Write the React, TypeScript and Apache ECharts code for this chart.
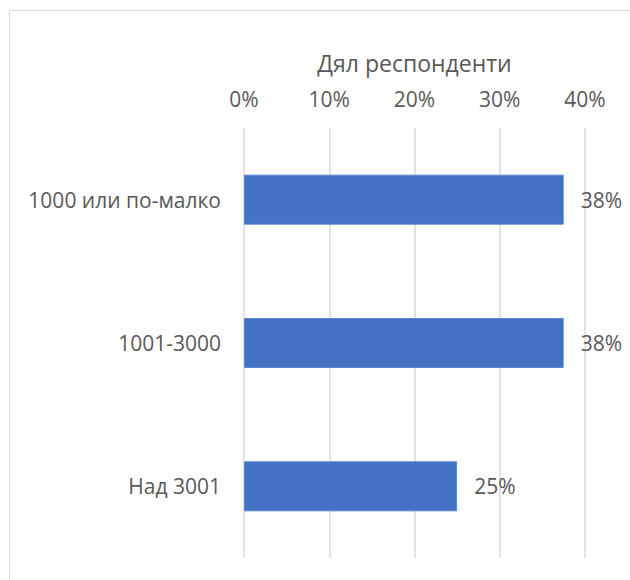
import React, { useEffect, useRef } from "react";
import * as echarts from "echarts";

const categories = ["1000 или по-малко", "1001-3000", "Над 3001"];
const shares = [37.5, 37.5, 25];
const axisTicks = [0, 10, 20, 30, 40];
const axisTitle = "Дял респонденти";

const FONT = "'Open Sans', 'Noto Sans', sans-serif";
const TEXT = "#595959";
const FS = 21;

export default function App() {
  const ref = useRef<HTMLDivElement>(null);
  useEffect(() => {
    if (!ref.current) return;
    const chart = echarts.init(ref.current, null, { renderer: "svg" });
    chart.setOption({
      animation: false,
      backgroundColor: "#ffffff",
      textStyle: { fontFamily: FONT },
      graphic: [
        {
          type: "rect",
          shape: { x: 9.5, y: 10.5, width: 700, height: 700 },
          style: { fill: "none", stroke: "#d9d9d9", lineWidth: 1 },
          silent: true,
        },
      ],
      grid: { left: 244, top: 128, width: 341, height: 430 },
      xAxis: {
        type: "value",
        position: "top",
        min: axisTicks[0],
        max: axisTicks[axisTicks.length - 1],
        interval: axisTicks[1] - axisTicks[0],
        name: axisTitle,
        nameLocation: "middle",
        nameGap: 54,
        nameTextStyle: { color: TEXT, fontSize: 23, fontFamily: FONT },
        axisLine: { show: false },
        axisTick: { show: false },
        axisLabel: {
          color: TEXT,
          fontSize: FS,
          fontFamily: FONT,
          margin: 19,
          formatter: (v: number) => v + "%",
        },
        splitLine: { show: true, lineStyle: { color: "#d9d9d9", width: 1.5 } },
      },
      yAxis: {
        type: "category",
        inverse: true,
        data: categories,
        axisLine: { show: false },
        axisTick: { show: false },
        axisLabel: { color: TEXT, fontSize: FS, fontFamily: FONT, margin: 23 },
        splitLine: { show: false },
      },
      series: [
        {
          type: "bar",
          data: shares,
          barWidth: 50,
          itemStyle: { color: "#4472C4", borderColor: "#5b86d0", borderWidth: 1 },
          label: {
            show: true,
            position: "right",
            distance: 17,
            color: TEXT,
            fontSize: FS,
            fontFamily: FONT,
            formatter: (p: any) => Math.round(p.value) + "%",
          },
        },
      ],
    });
    return () => chart.dispose();
  }, []);
  return (
    <div
      ref={ref}
      style={{ position: "absolute", left: 0, top: 0, width: 630, height: 580 }}
    />
  );
}
